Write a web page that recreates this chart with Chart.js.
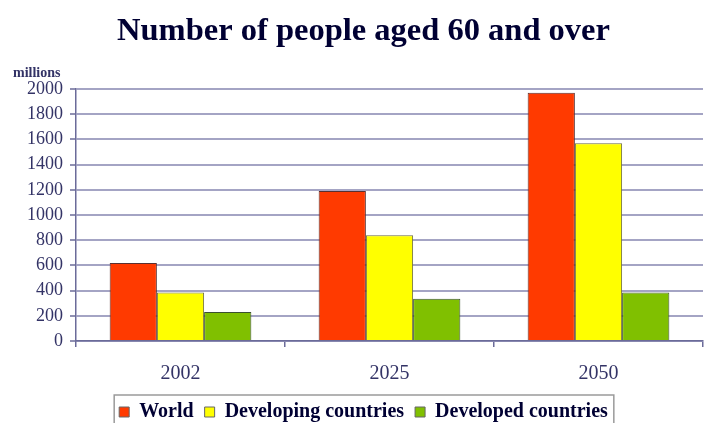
<!DOCTYPE html>
<html>
<head>
<meta charset="utf-8">
<script src="https://cdn.jsdelivr.net/npm/chart.js@4/dist/chart.umd.min.js"></script>
<style>
  html, body { margin: 0; padding: 0; background: #fff; }
  #wrap { width: 710px; height: 423px; }
</style>
</head>
<body>
<div id="wrap"><canvas id="c" width="710" height="423"></canvas></div>
<script>
const categories = ["2002", "2025", "2050"];
const worldValues = [620, 1190, 1970];
const developingValues = [385, 840, 1570];
const developedValues = [230, 335, 385];
const seriesNames = ["World", "Developing countries", "Developed countries"];
const yTicks = [0, 200, 400, 600, 800, 1000, 1200, 1400, 1600, 1800, 2000];
const titleText = "Number of people aged 60 and over";
const unitText = "millions";

const SERIF = "'Liberation Serif', 'Times New Roman', serif";
const NAVY = "#000033";
const AXIS = "#333366";

const extras = {
  id: 'extras',
  afterDraw(chart) {
    const ctx = chart.ctx;
    ctx.save();
    ctx.font = "bold 14px " + SERIF;
    ctx.fillStyle = AXIS;
    ctx.textAlign = "left";
    ctx.textBaseline = "middle";
    ctx.fillText(unitText, 13, 73);
    const lg = chart.legend;
    if (lg && lg.legendHitBoxes && lg.legendHitBoxes.length) {
      const hb = lg.legendHitBoxes;
      let l = Infinity, r = -Infinity, t = Infinity;
      hb.forEach(b => { l = Math.min(l, b.left); r = Math.max(r, b.left + b.width); t = Math.min(t, b.top); });
      ctx.strokeStyle = "#9a9a9a";
      ctx.lineWidth = 1.5;
      ctx.strokeRect(l - 5, t - 7, (r - l) + 11, 40);
    }
    ctx.restore();
  }
};

new Chart(document.getElementById('c'), {
  type: 'bar',
  data: {
    labels: categories,
    datasets: [
      { label: seriesNames[0], data: worldValues, backgroundColor: "#ff3a00", borderColor: "#5a3030", borderWidth: 1 },
      { label: seriesNames[1], data: developingValues, backgroundColor: "#ffff00", borderColor: "#6a6a40", borderWidth: 1 },
      { label: seriesNames[2], data: developedValues, backgroundColor: "#80c000", borderColor: "#3a5030", borderWidth: 1 }
    ]
  },
  options: {
    responsive: false,
    animation: false,
    devicePixelRatio: 1,
    layout: { padding: { left: 24, right: 7, top: 0, bottom: -9 } },
    datasets: { bar: { categoryPercentage: 0.678, barPercentage: 1.0 } },
    plugins: {
      title: {
        display: true,
        text: titleText,
        color: NAVY,
        font: { family: SERIF, size: 32.5, weight: 'bold' },
        padding: { top: 12, bottom: 38 }
      },
      legend: {
        display: true,
        position: 'bottom',
        labels: {
          color: NAVY,
          font: { family: SERIF, size: 20, weight: 'bold' },
          boxWidth: 10,
          boxHeight: 10,
          padding: 11,
          generateLabels(chart) {
            return chart.data.datasets.map((ds, i) => ({
              text: ds.label,
              fillStyle: ds.backgroundColor,
              strokeStyle: "#666",
              lineWidth: 1,
              fontColor: NAVY,
              datasetIndex: i,
              hidden: false
            }));
          }
        }
      },
      tooltip: { enabled: false }
    },
    scales: {
      x: {
        offset: true,
        afterFit(scale) { scale.height -= 10; },
        grid: { display: true, offset: true, drawOnChartArea: false, drawTicks: true, tickLength: 6, color: "#6b6b99", lineWidth: 1.5 },
        border: { display: true, color: "#6b6b99", width: 1.5 },
        ticks: { color: AXIS, font: { family: SERIF, size: 20 }, padding: 15 }
      },
      y: {
        min: 0,
        max: 2000,
        afterBuildTicks(scale) { scale.ticks = yTicks.map(v => ({ value: v })); },
        afterFit(scale) { scale.width = 52; },
        grid: { color: "#a4a4c4", lineWidth: 2, drawTicks: true, tickLength: 6, tickColor: "#6b6b99", tickWidth: 1.5 },
        border: { display: true, color: "#6b6b99", width: 1.5 },
        ticks: { color: AXIS, font: { family: SERIF, size: 18 }, padding: 7, autoSkip: false, callback: v => String(v) }
      }
    }
  },
  plugins: [extras]
});
</script>
</body>
</html>
